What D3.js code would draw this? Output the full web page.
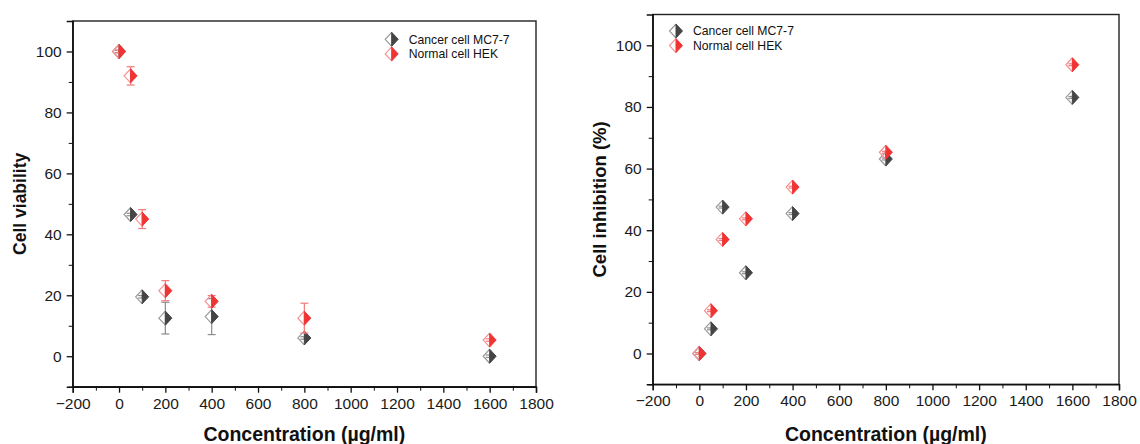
<!DOCTYPE html>
<html>
<head>
<meta charset="utf-8">
<script src="https://cdn.jsdelivr.net/npm/d3@7"></script>
<style>
  html, body { margin: 0; padding: 0; background: #fff; }
  svg { display: block; font-family: "Liberation Sans", Arial, sans-serif; }
  .tick text { font-size: 15.5px; fill: #1a1a1a; }
  .axis path, .axis line { stroke: #111; }
</style>
</head>
<body>
<svg id="chart" width="1140" height="444"></svg>
<script>
// concentrations (µg/ml)
var concentrations = [0, 50, 100, 200, 400, 800, 1600];

// left panel: cell viability
var viabilityCancer = [100, 46.5, 19.5, 12.5, 13, 6, 0];
var viabilityCancerErr = [0.4, 0.4, 0.4, 5.2, 5.9, 0.4, 0.4];
var viabilityNormal = [100, 92, 45, 21.5, 18, 12.5, 5.3];
var viabilityNormalErr = [0.4, 3, 3.1, 3.3, 1.9, 4.9, 0.4];

// right panel: cell inhibition (%)
var inhibitionCancer = [0, 8, 47.5, 26.2, 45.4, 63.1, 83.1];
var inhibitionNormal = [0, 13.9, 37, 43.7, 54, 65.3, 93.7];

var seriesNames = ["Cancer cell MC7-7", "Normal cell HEK"];
var xTicks = [-200, 0, 200, 400, 600, 800, 1000, 1200, 1400, 1600, 1800];
var yTicks = [0, 20, 40, 60, 80, 100];

var styles = [
  {fill: "#454545", hollow: "#9a9a9a", err: "#8c8c8c"},
  {fill: "#f03434", hollow: "#f79090", err: "#f27a7a"}
];

var svg = d3.select("#chart");

function drawPanel(box, yLabel, series, legendPos) {
  var x = d3.scaleLinear().domain([-200, 1800]).range([box.left, box.right]);
  var y = d3.scaleLinear().domain([-10, 110]).range([box.bottom, box.top]);
  var g = svg.append("g");

  // frame
  g.append("rect")
    .attr("x", box.left).attr("y", box.top)
    .attr("width", box.right - box.left).attr("height", box.bottom - box.top)
    .attr("fill", "none").attr("stroke", "#222").attr("stroke-width", 1.4);

  // minor ticks
  g.append("g").attr("class", "axis")
    .attr("transform", "translate(0," + box.bottom + ")")
    .call(d3.axisBottom(x).tickValues(d3.range(-100, 1800, 200)).tickSize(4).tickFormat(""))
    .call(function(a) { a.select(".domain").remove(); });
  g.append("g").attr("class", "axis")
    .attr("transform", "translate(" + box.left + ",0)")
    .call(d3.axisLeft(y).tickValues(d3.range(-10, 110, 20)).tickSize(4).tickFormat(""))
    .call(function(a) { a.select(".domain").remove(); });

  // major ticks
  g.append("g").attr("class", "axis")
    .attr("transform", "translate(0," + box.bottom + ")")
    .call(d3.axisBottom(x).tickValues(xTicks).tickSize(6).tickPadding(5).tickFormat(d3.format("d")))
    .call(function(a) { a.select(".domain").attr("stroke-width", 1.4); a.selectAll("line").attr("stroke-width", 1.3); });
  g.append("g").attr("class", "axis")
    .attr("transform", "translate(" + box.left + ",0)")
    .call(d3.axisLeft(y).tickValues(yTicks).tickSize(6).tickPadding(5))
    .call(function(a) { a.select(".domain").attr("stroke-width", 1.4); a.selectAll("line").attr("stroke-width", 1.3); });

  // axis titles
  g.append("text")
    .attr("x", (box.left + box.right) / 2).attr("y", 441)
    .attr("text-anchor", "middle")
    .attr("font-size", 19.5).attr("font-weight", "bold").attr("fill", "#111")
    .text("Concentration (\u00b5g/ml)");
  g.append("text")
    .attr("transform", "translate(" + box.yLabelX + "," + ((box.top + box.bottom) / 2) + ") rotate(-90)")
    .attr("text-anchor", "middle")
    .attr("font-size", box.yLabelSize).attr("font-weight", "bold").attr("fill", "#111")
    .text(yLabel);

  // series
  series.forEach(function(s, i) {
    var st = styles[i];
    var pts = concentrations.map(function(c, j) {
      return {x: c, y: s.values[j], e: s.errors ? s.errors[j] : 0.3};
    });
    var sg = g.append("g");
    // error bars
    var eb = sg.selectAll(".err").data(pts).enter().append("g")
      .attr("stroke", st.err).attr("stroke-width", 1.2);
    eb.append("line")
      .attr("x1", function(d) { return x(d.x); }).attr("x2", function(d) { return x(d.x); })
      .attr("y1", function(d) { return y(d.y + d.e); }).attr("y2", function(d) { return y(d.y - d.e); });
    [1, -1].forEach(function(sign) {
      eb.append("line")
        .attr("x1", function(d) { return x(d.x) - 4; }).attr("x2", function(d) { return x(d.x) + 4; })
        .attr("y1", function(d) { return y(d.y + sign * d.e); }).attr("y2", function(d) { return y(d.y + sign * d.e); });
    });
    drawMarkers(sg, pts.map(function(d) { return [x(d.x), y(d.y)]; }), st);
  });

  // legend
  var lg = g.append("g").attr("transform", "translate(" + legendPos[0] + "," + legendPos[1] + ")");
  seriesNames.forEach(function(name, i) {
    drawMarkers(lg, [[0, i * 14.6]], styles[i]);
    lg.append("text")
      .attr("x", 17).attr("y", i * 14.6 + 4.3)
      .attr("font-size", 12.2).attr("fill", "#111")
      .text(name);
  });
}

function drawMarkers(sel, coords, st) {
  var w = 6.5, h = 7;
  var m = sel.selectAll(null).data(coords).enter().append("g")
    .attr("transform", function(d) { return "translate(" + d[0] + "," + d[1] + ")"; });
  m.append("path")
    .attr("d", "M0," + (-h) + "L" + (-w) + ",0L0," + h)
    .attr("fill", "none").attr("stroke", st.hollow).attr("stroke-width", 1.2);
  m.append("path")
    .attr("d", "M0," + (-h) + "L" + w + ",0L0," + h + "Z")
    .attr("fill", st.fill).attr("stroke", st.fill).attr("stroke-width", 1);
}

drawPanel({left: 72.7, right: 536, top: 21, bottom: 386.7, yLabelX: 26, yLabelSize: 17.5},
  "Cell viability",
  [{values: viabilityCancer, errors: viabilityCancerErr},
   {values: viabilityNormal, errors: viabilityNormalErr}],
  [391.7, 39.3]);

drawPanel({left: 652.7, right: 1119, top: 14.5, bottom: 384.3, yLabelX: 606, yLabelSize: 18.5},
  "Cell inhibition (%)",
  [{values: inhibitionCancer}, {values: inhibitionNormal}],
  [676, 31]);
</script>
</body>
</html>
